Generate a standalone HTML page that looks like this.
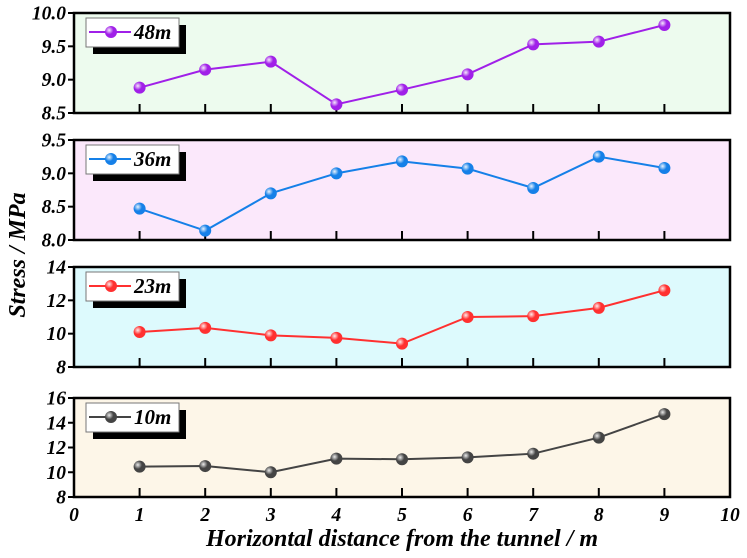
<!DOCTYPE html>
<html><head><meta charset="utf-8"><style>
body{margin:0;background:#fff}
svg text{font-family:"Liberation Serif",serif;font-weight:bold;font-style:italic}
</style></head><body>
<svg id="c" width="747" height="553" viewBox="0 0 747 553" xmlns="http://www.w3.org/2000/svg">
<defs>
<radialGradient id="gs" cx="0.35" cy="0.35" r="0.7"><stop offset="0" stop-color="#fff" stop-opacity="0.9"/><stop offset="0.5" stop-color="#fff" stop-opacity="0"/></radialGradient>
</defs>
</svg>
<script>
const xValues=[1,2,3,4,5,6,7,8,9];
const xTicks=[0,1,2,3,4,5,6,7,8,9,10];
const names=["48m","36m","23m","10m"];
const s48=[8.88,9.15,9.27,8.63,8.85,9.08,9.53,9.57,9.82];
const s36=[8.47,8.14,8.70,9.00,9.18,9.07,8.78,9.25,9.08];
const s23=[10.1,10.35,9.9,9.75,9.4,11.0,11.05,11.55,12.6];
const s10=[10.45,10.5,10.0,11.1,11.05,11.2,11.5,12.8,14.7];
const ticks48=["8.5","9.0","9.5","10.0"];
const ticks36=["8.0","8.5","9.0","9.5"];
const ticks23=["8","10","12","14"];
const ticks10=["8","10","12","14","16"];
const svg=document.getElementById('c');
const NS="http://www.w3.org/2000/svg";
function mk(t,a,p){const e=document.createElementNS(NS,t);for(const k in a)e.setAttribute(k,a[k]);(p||svg).appendChild(e);return e;}
const X0=74,X1=730;
const xs=v=>X0+(v-0)/10*(X1-X0);
const panels=[
 {d:s48,t:ticks48,top:13,bot:113,bg:"#edfbee",col:"#a020e8"},
 {d:s36,t:ticks36,top:140,bot:240,bg:"#fbe8fb",col:"#1580e8"},
 {d:s23,t:ticks23,top:267,bot:367,bg:"#ddfafd",col:"#ff3030"},
 {d:s10,t:ticks10,top:398,bot:497,bg:"#fdf6e8",col:"#444"}];
panels.forEach((p,i)=>{
 const g=mk('g',{});
 
 
 const lo=parseFloat(p.t[0]),hi=parseFloat(p.t[p.t.length-1]);
 const ys=v=>p.bot-(v-lo)/(hi-lo)*(p.bot-p.top);
 const bg=mk('rect',{x:X0,y:p.top,width:X1-X0,height:p.bot-p.top,fill:p.bg,stroke:"#000","stroke-width":2.5},g);
 
 
 p.t.forEach(t=>{const y=ys(parseFloat(t));
  mk('line',{x1:X0-6,x2:X0,y1:y,y2:y,stroke:"#000","stroke-width":2},g);
  const tx=mk('text',{x:X0-8,y:y+6.5,"text-anchor":"end","font-size":19.5},g);tx.textContent=t;
  
  });
 xValues.forEach(v=>mk('line',{x1:xs(v),x2:xs(v),y1:p.bot,y2:p.bot-9,stroke:"#000","stroke-width":2},g));
 const pts=p.d.map((v,k)=>xs(xValues[k])+","+ys(v)).join(" ");
 const ln=mk('polyline',{points:pts,fill:"none",stroke:p.col,"stroke-width":2},g);
 
 
 p.d.forEach((v,k)=>{const c=mk('circle',{cx:xs(xValues[k]),cy:ys(v),r:6,fill:p.col},g);
  
  
  mk('circle',{cx:xs(xValues[k]),cy:ys(v),r:6,fill:"url(#gs)"},g);});
 const lx=86,ly=p.top+5;
 const lg=mk('g',{},g);
 
 
 mk('rect',{x:lx+7,y:ly+7,width:93,height:29,fill:"#000"},lg);
 mk('rect',{x:lx,y:ly,width:93,height:29,fill:"#fff",stroke:"#777","stroke-width":1},lg);
 mk('line',{x1:lx+3,x2:lx+45,y1:ly+14,y2:ly+14,stroke:p.col,"stroke-width":2},lg);
 mk('circle',{cx:lx+25,cy:ly+14,r:6,fill:p.col},lg);
 mk('circle',{cx:lx+25,cy:ly+14,r:6,fill:"url(#gs)"},lg);
 const lt=mk('text',{x:lx+48,y:ly+21,"font-size":21},lg);lt.textContent=names[i];
});
xTicks.forEach(v=>{const t=mk('text',{x:xs(v),y:521,"text-anchor":"middle","font-size":19.5});t.textContent=v;
 
 });
const xl=mk('text',{x:402,y:546,"text-anchor":"middle","font-size":24});xl.textContent="Horizontal distance from the tunnel / m";


const yl=mk('text',{x:0,y:0,"text-anchor":"middle","font-size":24,transform:"translate(25,255) rotate(-90)"});yl.textContent="Stress / MPa";


</script>
</body></html>
